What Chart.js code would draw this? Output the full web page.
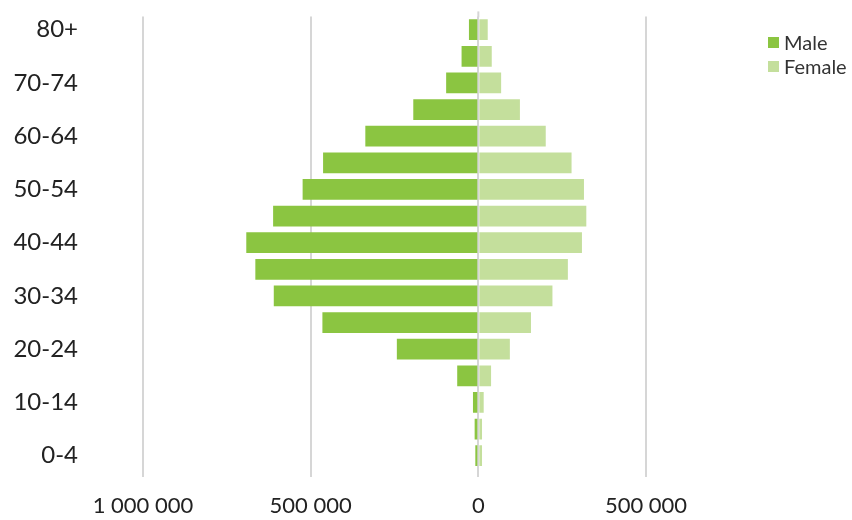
<!DOCTYPE html>
<html>
<head>
<meta charset="utf-8">
<script src="https://cdn.jsdelivr.net/npm/chart.js@4.4.1/dist/chart.umd.min.js"></script>
<style>
  html, body { margin: 0; padding: 0; background: #ffffff; }
  #wrap { position: relative; width: 852px; height: 520px; }
  #legend { position: absolute; left: 768px; top: 30px; font-family: Lato, "Open Sans", sans-serif; font-size: 20px; color: #333333; }
  #legend .row { display: flex; align-items: center; height: 24px; }
  #legend .sw { width: 11px; height: 11px; margin-right: 5px; }
</style>
</head>
<body>
<div id="wrap">
  <canvas id="chart" width="852" height="520"></canvas>
  <div id="legend"></div>
</div>
<script>
// Age groups, youngest first (drawn bottom to top)
const ageGroups = ['0-4', '5-9', '10-14', '15-19', '20-24', '25-29', '30-34', '35-39',
  '40-44', '45-49', '50-54', '55-59', '60-64', '65-69', '70-74', '75-79', '80+'];

// Population by age group
const male = [9000, 11000, 16000, 63000, 243000, 465000, 610000, 665000,
  692000, 612000, 524000, 463000, 337000, 194000, 96000, 50000, 28000];
const female = [11000, 11000, 16000, 38000, 94000, 157000, 221000, 267000,
  309000, 322000, 315000, 278000, 201000, 124000, 68000, 40000, 28000];

const seriesNames = ['Male', 'Female'];
const seriesColors = ['#8bc541', '#c4df9c'];

// Axis ticks
const xTicks = [-1000000, -500000, 0, 500000];

const FONT = 'Lato, "Open Sans", sans-serif';
const GRID = '#d6d6d6';

function fmt(v) {
  return String(Math.abs(Math.round(v))).replace(/\B(?=(\d{3})+(?!\d))/g, ' ');
}

// Lets the zero line run a little above the plot area
const zeroLineCap = {
  id: 'zeroLineCap',
  beforeDatasetsDraw(chart) {
    const { ctx, chartArea, scales } = chart;
    const x = scales.x.getPixelForValue(0);
    ctx.save();
    ctx.strokeStyle = GRID;
    ctx.lineWidth = 2;
    ctx.beginPath();
    ctx.moveTo(x, chartArea.top - 5);
    ctx.lineTo(x, chartArea.top + 1);
    ctx.stroke();
    ctx.restore();
  }
};

const chart = new Chart(document.getElementById('chart'), {
  type: 'bar',
  data: {
    labels: ageGroups,
    datasets: [
      { label: seriesNames[0], data: male.map(v => -v), backgroundColor: seriesColors[0] },
      { label: seriesNames[1], data: female, backgroundColor: seriesColors[1] }
    ]
  },
  plugins: [zeroLineCap],
  options: {
    indexAxis: 'y',
    responsive: false,
    animation: false,
    layout: { padding: { left: 0, right: 206, top: 16, bottom: 0 } },
    datasets: { bar: { barPercentage: 0.78, categoryPercentage: 1.0 } },
    plugins: { legend: { display: false }, tooltip: { enabled: false } },
    scales: {
      x: {
        stacked: true,
        min: xTicks[0],
        max: xTicks[xTicks.length - 1],
        afterBuildTicks: s => { s.ticks = xTicks.map(v => ({ value: v })); },
        afterFit: s => { s.height = 51; },
        border: { display: false },
        grid: { color: GRID, lineWidth: 2, drawTicks: true, tickLength: 8 },
        ticks: {
          padding: 16,
          color: '#222222',
          font: { family: FONT, size: 22 },
          callback: v => fmt(v)
        }
      },
      y: {
        stacked: true,
        reverse: true,
        afterFit: s => { s.width = 143; },
        border: { display: false },
        // hidden grid; the tick length only reserves room between labels and bars
        grid: { display: false, drawTicks: true, tickLength: 63 },
        ticks: {
          autoSkip: false,
          padding: 2,
          color: '#222222',
          font: { family: FONT, size: 24 },
          callback: (v, i) => (i % 2 === 0 ? ageGroups[i] : '')
        }
      }
    }
  }
});

// Legend
const legend = document.getElementById('legend');
seriesNames.forEach((name, i) => {
  const row = document.createElement('div');
  row.className = 'row';
  const sw = document.createElement('span');
  sw.className = 'sw';
  sw.style.background = seriesColors[i];
  const txt = document.createElement('span');
  txt.textContent = name;
  row.appendChild(sw);
  row.appendChild(txt);
  legend.appendChild(row);
});
</script>
</body>
</html>
